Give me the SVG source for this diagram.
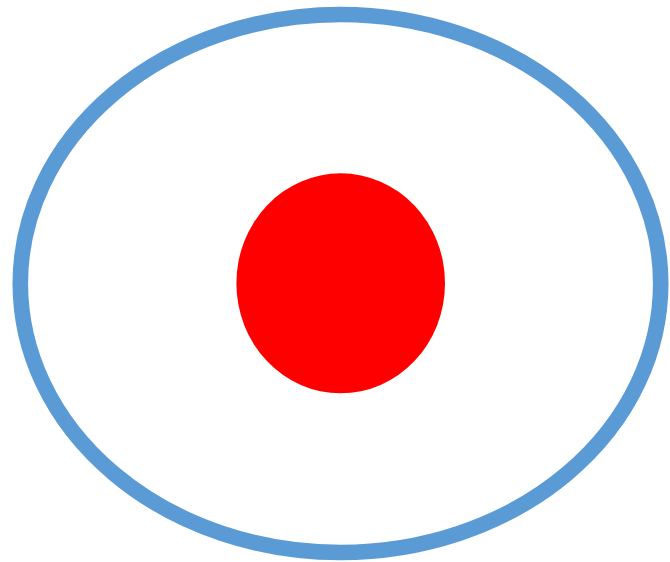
<svg xmlns="http://www.w3.org/2000/svg" width="670" height="562" viewBox="0 0 670 562">
<style>
.outer{fill:#FFFFFF;stroke:#5B9BD5;stroke-width:15.6}
.inner{fill:#FF0000;stroke:none}
</style>
<rect width="670" height="562" fill="#FFFFFF"/>
<g id="outer-ellipse"><ellipse class="outer" cx="340.5" cy="283.5" rx="320.2" ry="269"/></g>
<g id="inner-circle"><ellipse class="inner" cx="340.7" cy="283.3" rx="104.3" ry="110"/></g>
<g id="connectors"></g>
</svg>
